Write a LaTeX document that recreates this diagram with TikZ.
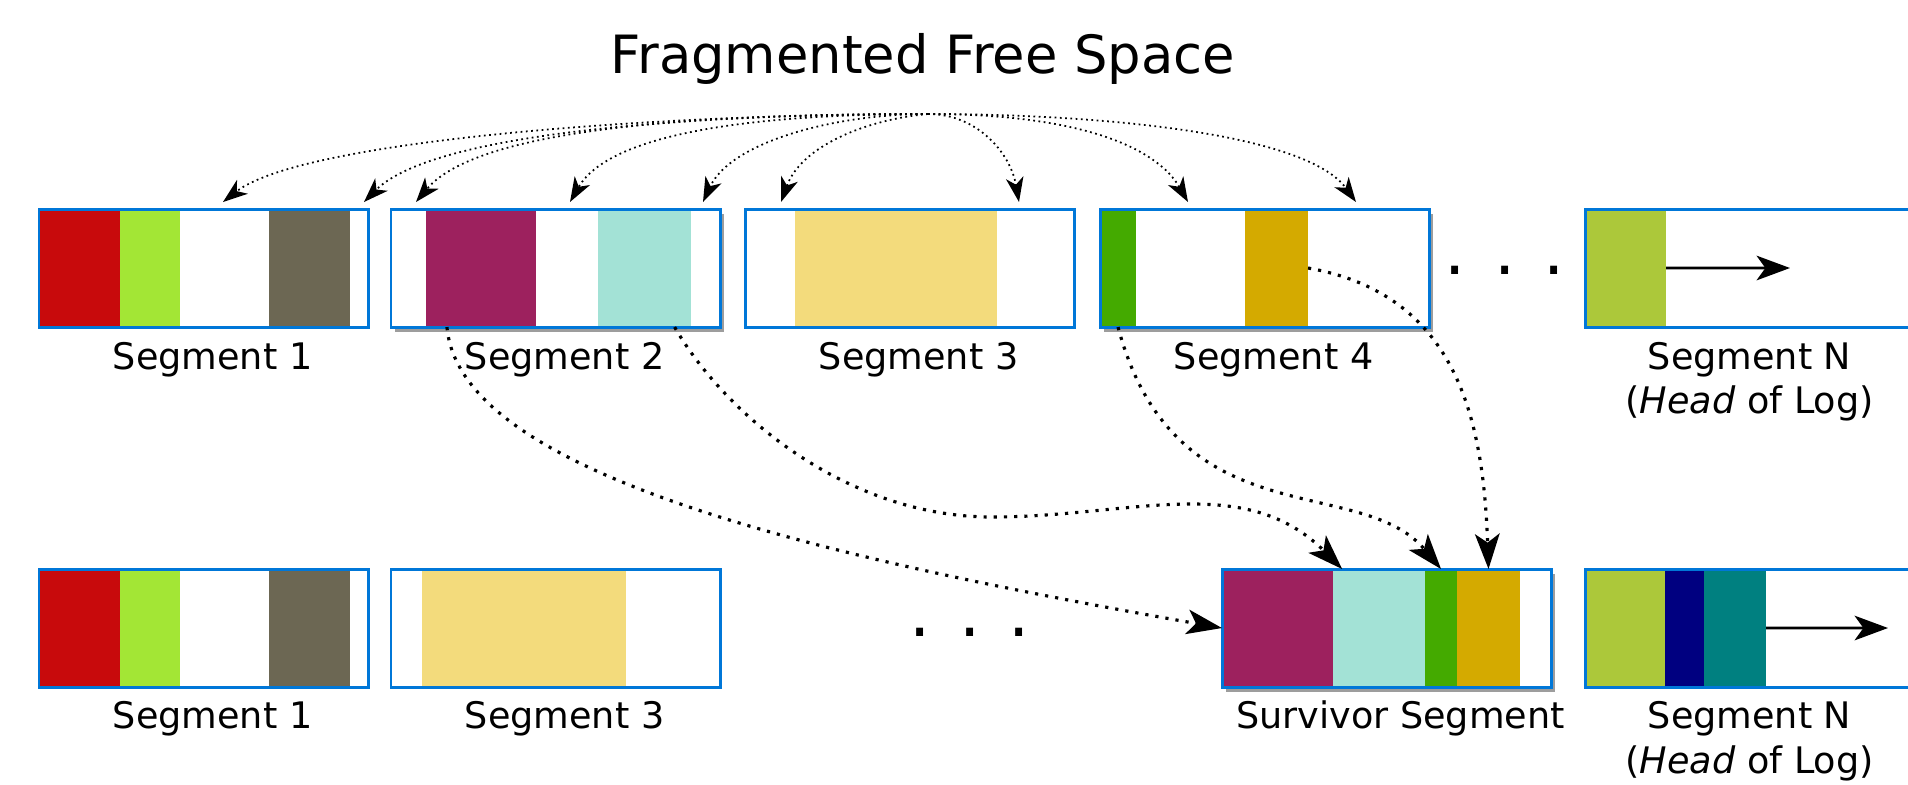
\documentclass[tikz,border=0pt]{standalone}
\usepackage{fontspec}
\setmainfont{DejaVu Sans}
\usetikzlibrary{arrows.meta, shadows}
\definecolor{SegBlue}{RGB}{0,119,216}
\definecolor{BlkRed}{RGB}{200,10,12}
\definecolor{BlkLime}{RGB}{163,230,53}
\definecolor{BlkGray}{RGB}{108,103,83}
\definecolor{BlkPlum}{RGB}{157,33,94}
\definecolor{BlkAqua}{RGB}{163,226,214}
\definecolor{BlkSand}{RGB}{243,219,124}
\definecolor{BlkGreen}{RGB}{68,170,0}
\definecolor{BlkGold}{RGB}{212,170,0}
\definecolor{BlkOlive}{RGB}{172,200,58}
\definecolor{BlkNavy}{RGB}{0,0,128}
\definecolor{BlkTeal}{RGB}{0,128,128}

\begin{document}
\begin{tikzpicture}[x=0.01cm, y=0.01cm,
      seg/.style={rectangle, fill=white, inner sep=0pt, outer sep=0pt,
                  minimum width=3.29cm, minimum height=1.18cm, anchor=north west},
      lifted/.style={drop shadow={shadow xshift=1.2pt, shadow yshift=-1.5pt,
                     fill=black!70, opacity=.55}},
      blk/.style={rectangle, inner sep=0pt, outer sep=0pt,
                  minimum height=1.18cm, anchor=north west},
      rim/.style={draw=SegBlue, line width=0.85pt},
      lbl/.style={font=\fontsize{10.4}{12}\selectfont, inner sep=0pt, anchor=base},
      gap/.style={font=\fontsize{19}{20}\selectfont, inner sep=0pt, anchor=base},
      freearr/.style={line width=0.5pt, densely dotted,
                      -{Stealth[length=7pt, width=5pt, inset=2pt]}},
      copyarr/.style={line width=0.9pt, dotted,
                      -{Stealth[length=10pt, width=7pt, inset=2.5pt]}},
      headarr/.style={line width=0.75pt,
                      -{Stealth[length=9.5pt, width=7pt, inset=2.5pt]}}
    ]
    \useasboundingbox (0,0) rectangle (1908,-784);

    \node[font=\fontsize{15}{18}\selectfont, anchor=base] (title) at (923,-73)
          {Fragmented Free Space};

    %--- segments before cleaning (top) ---
    \node[seg]         (t1) at (39,-209) {};
    \node[seg, lifted] (t2) at (391,-209) {};
    \node[seg]         (t3) at (745,-209) {};
    \node[seg, lifted] (t4) at (1100,-209) {};
    \node[seg]         (tN) at (1585,-209) {};

    %--- segments after cleaning (bottom) ---
    \node[seg]         (b1)   at (39,-569) {};
    \node[seg]         (b3)   at (391,-569) {};
    \node[seg, lifted] (surv) at (1222,-569) {};
    \node[seg]         (bN)   at (1585,-569) {};

    % live data inside each segment
    \foreach \n/\x/\y/\w/\c in {
      t1a/39/-209/.81/BlkRed,   t1b/120/-209/.60/BlkLime, t1c/269/-209/.81/BlkGray,
      t2a/426/-209/1.10/BlkPlum, t2b/598/-209/.93/BlkAqua,
      t3a/795/-209/2.02/BlkSand,
      t4a/1100/-209/.36/BlkGreen, t4b/1245/-209/.63/BlkGold,
      tNa/1585/-209/.81/BlkOlive,
      b1a/39/-569/.81/BlkRed,   b1b/120/-569/.60/BlkLime, b1c/269/-569/.81/BlkGray,
      b3a/422/-569/2.04/BlkSand,
      sa/1222/-569/1.11/BlkPlum, sb/1333/-569/.92/BlkAqua,
      sc/1425/-569/.32/BlkGreen, sd/1457/-569/.63/BlkGold,
      bNa/1585/-569/.80/BlkOlive, bNb/1665/-569/.39/BlkNavy, bNc/1704/-569/.62/BlkTeal} {
      \node[blk, fill=\c, minimum width=\w cm] (\n) at (\x,\y) {};
    }
    \foreach \s in {t1,t2,t3,t4,tN,b1,b3,surv,bN} {
      \draw[rim] (\s.north west) rectangle (\s.south east);
    }

    % labels
    \node[lbl] (t1l) at ([shift={(9,-42)}]t1.south) {Segment 1};
    \node[lbl] (t2l) at ([shift={(9,-42)}]t2.south) {Segment 2};
    \node[lbl] (t3l) at ([shift={(9,-42)}]t3.south) {Segment 3};
    \node[lbl] (t4l) at ([shift={(9,-42)}]t4.south) {Segment 4};
    \node[lbl] (tNl) at ([shift={(0,-42)}]tN.south) {Segment N};
    \node[lbl] (tNm) at ([shift={(0,-44)}]tNl.base) {(\textit{Head} of Log)};
    \node[lbl] (b1l) at ([shift={(9,-41)}]b1.south) {Segment 1};
    \node[lbl] (b3l) at ([shift={(9,-41)}]b3.south) {Segment 3};
    \node[lbl] (svl) at ([shift={(14,-41)}]surv.south) {Survivor Segment};
    \node[lbl] (bNl) at ([shift={(0,-41)}]bN.south) {Segment N};
    \node[lbl] (bNm) at ([shift={(0,-45)}]bNl.base) {(\textit{Head} of Log)};

    \node[gap] (tdots) at (1505,-274) {. . .};
    \node[gap] (bdots) at (970,-636) {. . .};

    % log head keeps growing
    \coordinate (tNhead) at (1790,-268);
    \coordinate (bNhead) at (1888,-628);
    \draw[headarr] (tNa.east) -- (tNhead);
    \draw[headarr] (bNc.east) -- (bNhead);

    %--- holes left in the segments ---
    \coordinate (src) at (928,-114);
    \foreach \x [count=\i] in {223,364,416,570,703,781,1019,1188,1356} {
      \coordinate (f\i) at (\x,-202);
    }
    \foreach \t/\o/\a/\lo/\li in {
      f1/180/38/1/.36, f2/180/45/1/.45, f3/180/50/1/.5,
      f4/180/60/1/.6,  f5/180/65/1/.7,  f6/185/70/.9/.9,
      f7/0/100/1/1,    f8/0/120/1.5/.55, f9/0/126/1/.5} {
      \draw[freearr] (src) to[out=\o, in=\a, out looseness=\lo, in looseness=\li] (\t);
    }

    %--- live data copied into the survivor ---
    \coordinate (wave) at (992,-517);
    \draw[copyarr] (t2a.-120) to[out=-85, in=170, out looseness=.46, in looseness=1.23] (sa.west);
    \draw[copyarr] (t2b.-63) to[out=-60, in=180, out looseness=.7] (wave)
                   to[out=0, in=135] (sb.122);
    \draw[copyarr] (t4a.south) to[out=-75, in=130, out looseness=1.4, in looseness=.8] (sc.north);
    \draw[copyarr] (t4b.east) to[out=-10, in=92, looseness=1.1] (sd.north);
  \end{tikzpicture}
\end{document}
